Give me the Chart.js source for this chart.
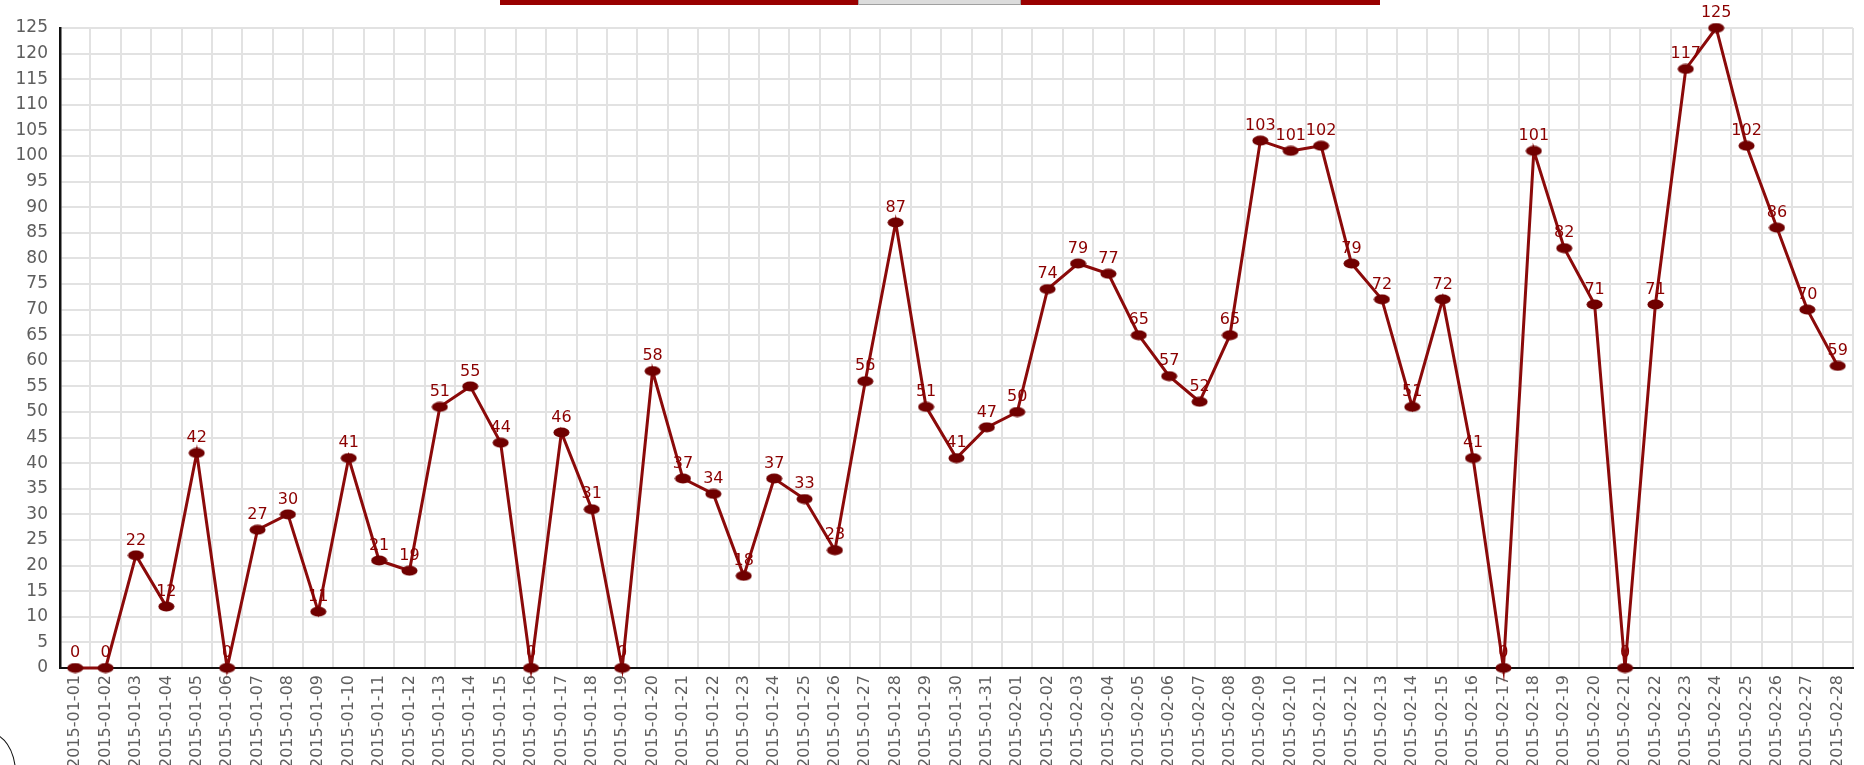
<!DOCTYPE html>
<html>
<head>
<meta charset="utf-8">
<script src="https://cdn.jsdelivr.net/npm/chart.js@4/dist/chart.umd.min.js"></script>
<style>
  body { margin: 0; background: #fff; overflow: hidden; }
  #wrap { position: relative; width: 1864px; height: 765px; }
  #topbar { position: absolute; left: 500px; top: 0; width: 880px; height: 5px; background: #990000; }
  #thumb { position: absolute; left: 358px; top: 0; width: 161px; height: 4px; background: #dcdcdc; border: 1px solid #a0a0a0; border-top: none; }
  #arc { position: absolute; left: -40px; top: 732px; width: 54px; height: 80px; border: 1.5px solid #111; border-radius: 50%; }
</style>
</head>
<body>
<div id="wrap">
  <canvas id="myChart"></canvas>
  <div id="topbar"><div id="thumb"></div></div>
  <div id="arc"></div>
</div>
<script>
const days = [
  "2015-01-01","2015-01-02","2015-01-03","2015-01-04","2015-01-05","2015-01-06","2015-01-07",
  "2015-01-08","2015-01-09","2015-01-10","2015-01-11","2015-01-12","2015-01-13","2015-01-14",
  "2015-01-15","2015-01-16","2015-01-17","2015-01-18","2015-01-19","2015-01-20","2015-01-21",
  "2015-01-22","2015-01-23","2015-01-24","2015-01-25","2015-01-26","2015-01-27","2015-01-28",
  "2015-01-29","2015-01-30","2015-01-31","2015-02-01","2015-02-02","2015-02-03","2015-02-04",
  "2015-02-05","2015-02-06","2015-02-07","2015-02-08","2015-02-09","2015-02-10","2015-02-11",
  "2015-02-12","2015-02-13","2015-02-14","2015-02-15","2015-02-16","2015-02-17","2015-02-18",
  "2015-02-19","2015-02-20","2015-02-21","2015-02-22","2015-02-23","2015-02-24","2015-02-25",
  "2015-02-26","2015-02-27","2015-02-28"
];

const counts = [
  0, 0, 22, 12, 42, 0, 27,
  30, 11, 41, 21, 19, 51, 55,
  44, 0, 46, 31, 0, 58, 37,
  34, 18, 37, 33, 23, 56, 87,
  51, 41, 47, 50, 74, 79, 77,
  65, 57, 52, 65, 103, 101, 102,
  79, 72, 51, 72, 41, 0, 101,
  82, 71, 0, 71, 117, 125, 102,
  86, 70, 59
];

const yMin = 0;
const yMax = 125;
const yStep = 5;

const lineColor = "#8b0a0a";
const dotColor = "#700000";
const labelColor = "#8b0000";
const tickColor = "#5e5e5e";
const fontFamily = "'DejaVu Sans', Verdana, sans-serif";

// flattened dot like in the original
const dot = document.createElement("canvas");
dot.width = 17;
dot.height = 11;
const dctx = dot.getContext("2d");
dctx.fillStyle = dotColor;
dctx.beginPath();
dctx.ellipse(8.5, 5.5, 8, 5, 0, 0, Math.PI * 2);
dctx.fill();

// value text above every point
const valueLabels = {
  id: "valueLabels",
  afterDatasetsDraw(chart) {
    const ctx = chart.ctx;
    const meta = chart.getDatasetMeta(0);
    ctx.save();
    ctx.font = "16px " + fontFamily;
    ctx.fillStyle = labelColor;
    ctx.textAlign = "center";
    ctx.textBaseline = "bottom";
    meta.data.forEach((pt, i) => {
      ctx.fillText(String(counts[i]), pt.x, pt.y - 7);
    });
    ctx.restore();
  }
};

Chart.defaults.font.family = fontFamily;

const config = {
  type: "line",
  data: {
    labels: days,
    datasets: [
      {
        data: counts,
        borderColor: lineColor,
        borderWidth: 3,
        pointStyle: dot,
        pointRadius: 6,
        pointHoverRadius: 6,
        tension: 0,
        clip: false
      }
    ]
  },
  options: {
    responsive: true,
    maintainAspectRatio: false,
    animation: false,
    layout: { padding: { top: 28, right: 2, left: 0, bottom: 0 } },
    plugins: {
      legend: { display: false },
      tooltip: { enabled: false }
    },
    scales: {
      x: {
        offset: true,
        grid: { offset: true, color: "#e2e2e2", lineWidth: 2, drawTicks: false },
        border: { color: "#111", width: 2 },
        ticks: {
          autoSkip: false,
          minRotation: 90,
          maxRotation: 90,
          padding: 7,
          color: tickColor,
          font: { size: 16 }
        },
        afterFit: (scale) => { scale.height = 97; }
      },
      y: {
        min: yMin,
        max: yMax,
        grid: { color: "#e2e2e2", lineWidth: 2, drawTicks: false },
        border: { color: "#111", width: 2.5 },
        ticks: {
          stepSize: yStep,
          padding: 12,
          color: tickColor,
          font: { size: 17 }
        },
        afterFit: (scale) => { scale.width = 60; }
      }
    }
  },
  plugins: [valueLabels]
};

const myChart = new Chart(document.getElementById("myChart"), config);
</script>
</body>
</html>
